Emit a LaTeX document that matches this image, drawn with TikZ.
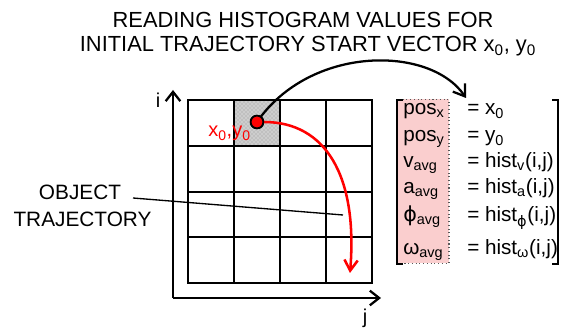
\documentclass[tikz,border=0pt]{standalone}
\usepackage{fontspec}
\setmainfont{Liberation Sans}
\newfontfamily\phifont{DejaVu Sans}
\usetikzlibrary{arrows.meta,patterns}
\definecolor{pinkfill}{RGB}{250,206,206}
\definecolor{cellgray}{RGB}{205,205,205}
\definecolor{hatchgray}{RGB}{150,150,150}
\definecolor{dotborder}{RGB}{90,90,90}
\newcommand{\myphi}{{\phifont ϕ}}
\begin{document}
\begin{tikzpicture}[x=0.75pt,y=-0.75pt,
  titletxt/.style={font=\fontsize{16.4}{20}\selectfont, inner sep=0pt, anchor=base},
  lbl/.style={font=\fontsize{15.6}{19}\selectfont, inner sep=0pt, anchor=base},
  axlbl/.style={font=\fontsize{15}{18}\selectfont, inner sep=0pt, anchor=base},
  mtx/.style={font=\fontsize{15.5}{19}\selectfont, inner sep=0pt, anchor=base west},
  redlbl/.style={font=\fontsize{15}{18}\selectfont, inner sep=0pt, anchor=base east, text=red},
  gridline/.style={line width=1.7pt},
  axisline/.style={line width=1.7pt, -{Straight Barb[length=7pt,width=11pt,line width=1.7pt]}},
  blackcurve/.style={line width=1.7pt, -{Straight Barb[length=8pt,width=11pt,line width=1.7pt]}},
  redcurve/.style={line width=1.9pt, red, -{Straight Barb[length=8pt,width=10pt,line width=1.9pt]}},
  pointer/.style={line width=1pt},
  bracketline/.style={line width=1.6pt},
  pinkbox/.style={draw=dotborder, dotted, line width=0.8pt, fill=pinkfill, minimum width=39pt, minimum height=123pt, inner sep=0pt},
  dotnode/.style={circle, fill=red, draw=black, line width=1.3pt, minimum size=9.5pt, inner sep=0pt}
]
\useasboundingbox (0,0) rectangle (565,334);

% title
\node[titletxt] (t1) at (303,28) {READING HISTOGRAM VALUES FOR};
\node[titletxt] (t2) at (308,52) {INITIAL TRAJECTORY START VECTOR x\textsubscript{0}, y\textsubscript{0}};

% shaded cell
\fill[cellgray] (234,100) rectangle (280,146);
\fill[pattern=crosshatch dots, pattern color=hatchgray] (234,100) rectangle (280,146);

% grid
\foreach \c in {234,280,326} {
  \draw[gridline] (\c,100) -- (\c,283);
}
\foreach \r in {146,192,237} {
  \draw[gridline] (188,\r) -- (372,\r);
}
\draw[gridline] (188,100) rectangle (372,283);

% axes
\coordinate (O) at (173,298);
\coordinate (itop) at (173,90);
\coordinate (jend) at (381,298);
\draw[axisline] (O) -- (itop);
\draw[axisline] (O) -- (jend);
\node[axlbl] (ilbl) at (158,108) {i};
\node[axlbl] (jlbl) at (365,324) {j};

% object trajectory label
\node[lbl] (ob1) at (80,200) {OBJECT};
\node[lbl] (ob2) at (82.5,227) {TRAJECTORY};
\coordinate (ls) at (133,198);
\coordinate (le) at (343,215);
\draw[pointer] (ls) -- (le);

% red label
\node[redlbl] (xy) at (251,137) {x\textsubscript{0},y\textsubscript{0}};

% start point
\node[dotnode] (dot) at (257,122) {};
\coordinate (mtop) at (466,98);
\coordinate (rend) at (350,273);
\draw[blackcurve] (dot.center) .. controls (310,45) and (430,45) .. (mtop);
\draw[redcurve] (dot.east) .. controls (325,122) and (358,175) .. (rend);
\node[dotnode] at (dot) {};

% matrix
\node[pinkbox] (mbox) at (423,181.5) {};
\draw[bracketline] (403,100) -- (397,100) -- (397,264) -- (403,264);
\draw[bracketline] (552,100) -- (558,100) -- (558,264) -- (552,264);

\node[mtx] (l1) at (403,115) {pos\textsubscript{x}};
\node[mtx] (l2) at (403,142) {pos\textsubscript{y}};
\node[mtx] (l3) at (403,168) {v\textsubscript{avg}};
\node[mtx] (l4) at (403,194) {a\textsubscript{avg}};
\node[mtx] (l5) at (403,222) {\myphi\textsubscript{avg}};
\node[mtx] (l6) at (403,255) {ω\textsubscript{avg}};

\node[mtx] (r1) at (467,115) {= x\textsubscript{0}};
\node[mtx] (r2) at (467,142) {= y\textsubscript{0}};
\node[mtx] (r3) at (467,168) {= hist\textsubscript{v}(i,j)};
\node[mtx] (r4) at (467,194) {= hist\textsubscript{a}(i,j)};
\node[mtx] (r5) at (467,222) {= hist\textsubscript{\myphi}(i,j)};
\node[mtx] (r6) at (467,255) {= hist\textsubscript{ω}(i,j)};
\end{tikzpicture}
\end{document}
